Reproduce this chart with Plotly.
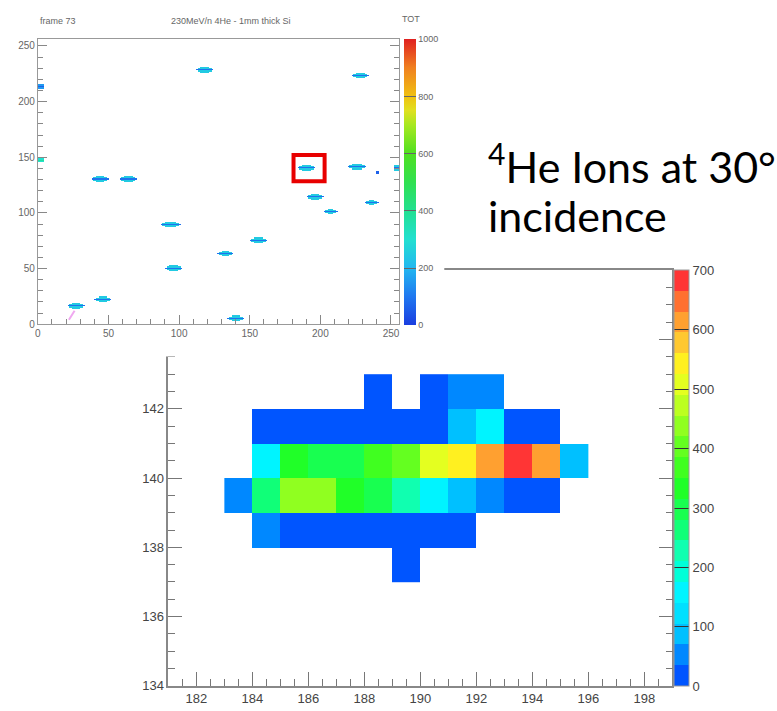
import numpy as np
import plotly.graph_objects as go

W, H = 777, 711

# ---------------- zoomed cluster (bottom panel) ----------------
pix_x = [183, 184, 185, 186, 187, 188, 189, 190, 191, 192, 193, 194, 195]
pix_y = [137, 138, 139, 140, 141, 142]
N = None
tot_y137 = [N, N, N, N, N, N, 20, N, N, N, N, N, N]
tot_y138 = [N, 60, 20, 20, 20, 20, 20, 20, 20, N, N, N, N]
tot_y139 = [60, 265, 435, 435, 330, 300, 225, 155, 90, 60, 20, 20, N]
tot_y140 = [N, 155, 330, 300, 300, 360, 400, 505, 540, 610, 685, 610, 90]
tot_y141 = [N, 20, 20, 20, 20, 20, 20, 20, 90, 155, 20, 20, N]
tot_y142 = [N, N, N, N, N, 20, N, 20, 60, 60, N, N, N]
tot_rows = [tot_y137, tot_y138, tot_y139, tot_y140, tot_y141, tot_y142]

zoom_cbar_ticks = [0, 100, 200, 300, 400, 500, 600, 700]

# ---------------- full frame clusters (top panel) ----------------
cl_x = [118.5, 228, 44.5, 64.5, 94, 96, 132.5, 156, 27, 46, 140, 190.5, 225.5, 196, 207, 236, 254.5, 240, 1.5, 2]
cl_y = [228, 223, 130, 130, 89, 50, 63, 75, 16, 22, 5, 140, 141, 114, 101, 109, 140, 136, 213, 147]
cl_len = [12, 12, 12, 12, 14, 12, 11, 13, 12, 12, 12, 12, 13, 12, 11, 10, 4, 2, 4, 3]
cl_core = [90, 90, 90, 90, 90, 90, 90, 90, 90, 90, 90, 90, 90, 90, 90, 90, 90, 60, 60, 380]
cl_edge = [245, 245, 245, 245, 245, 245, 245, 245, 245, 245, 245, 245, 245, 245, 245, 245, 245, 60, 150, 300]
trail_x = [26, 24, 22]
trail_y = [12, 8, 4]
frame_cbar_ticks = [0, 200, 400, 600, 800, 1000]

# build 256x256 frame image from cluster list
frame = np.full((256, 256), np.nan)
for cx, cy, L, vc, ve in zip(cl_x, cl_y, cl_len, cl_core, cl_edge):
    x0 = int(round(cx - L / 2))
    x1 = int(round(cx + L / 2))
    for dy, trim, val in [(-2, 3, ve), (-1, 1, ve), (0, 0, vc), (1, 1, ve), (2, 3, ve)]:
        a, b = x0 + trim, x1 - trim
        if L <= 4:
            a, b = x0, x1
            if abs(dy) == 2 and L < 4:
                continue
        yy = cy + dy
        if 0 <= yy < 256:
            for xx in range(max(a, 0), min(b, 256)):
                frame[yy, xx] = val

# colour scales
bands = ["#0055ff", "#0088ff", "#00c0ff", "#00e0ff", "#00f4ff", "#00ffd8", "#10ffb0",
         "#10ff78", "#18ff50", "#20ff28", "#40ff20", "#64ff20", "#90ff20", "#bcff20",
         "#e4ff20", "#fff020", "#ffc830", "#ffa030", "#ff7030", "#ff3535"]
cs_zoom = []
for i, c in enumerate(bands):
    cs_zoom.append([i / 20, c])
    cs_zoom.append([(i + 1) / 20, c])

cs_frame = [[0.0, "#1a3ee0"], [0.1, "#1f78f0"], [0.2, "#22b8f0"], [0.3, "#22e0d0"],
            [0.4, "#22e090"], [0.5, "#30e050"], [0.6, "#50e020"], [0.7, "#a8e820"],
            [0.75, "#e0e020"], [0.8, "#f0c010"], [0.9, "#f08020"], [1.0, "#e02020"]]

def px(v):
    return v / W

def py(v):
    return 1 - v / H

fig = go.Figure()

# bottom panel heatmap (subplot xy)
fig.add_trace(go.Heatmap(
    x=[v + 0.5 for v in pix_x], y=[v + 0.5 for v in pix_y], z=tot_rows,
    zmin=0, zmax=700, colorscale=cs_zoom, xaxis="x", yaxis="y", hoverinfo="skip",
    colorbar=dict(x=px(674), xanchor="left", y=py(269), yanchor="top",
                  len=(693.5 - 269) / H, lenmode="fraction", thickness=15,
                  xpad=0, ypad=0, outlinewidth=1, outlinecolor="#999",
                  tickvals=zoom_cbar_ticks, ticks="inside", ticklen=15, tickcolor="#333",
                  tickfont=dict(family="Liberation Sans, Arial", size=13, color="#444"))
))

# cover subplot x2y2 (its white background hides part of the bottom panel)
fig.add_trace(go.Scatter(x=[None], y=[None], xaxis="x2", yaxis="y2", mode="markers",
                         hoverinfo="skip", showlegend=False))

# top panel heatmap (subplot x3y3)
fig.add_trace(go.Heatmap(
    z=frame, x0=0.5, dx=1, y0=0.5, dy=1, zmin=0, zmax=1000, colorscale=cs_frame,
    xaxis="x3", yaxis="y3", hoverinfo="skip",
    colorbar=dict(x=px(403), xanchor="left", y=py(33), yanchor="top",
                  len=(325 - 33) / H, lenmode="fraction", thickness=12,
                  xpad=0, ypad=0, outlinewidth=0,
                  tickvals=frame_cbar_ticks, ticks="inside", ticklen=12, tickcolor="#666",
                  tickfont=dict(family="Liberation Sans, Arial", size=9, color="#666"))
))
fig.add_trace(go.Scatter(x=trail_x, y=trail_y, mode="lines", xaxis="x3", yaxis="y3",
                         line=dict(color="#f0a8f0", width=2), hoverinfo="skip", showlegend=False))

axfont = dict(family="Liberation Sans, Arial", size=13, color="#444")
smallfont = dict(family="Liberation Sans, Arial", size=10, color="#666")

fig.update_layout(
    width=W, height=H, margin=dict(l=0, r=0, t=0, b=0),
    paper_bgcolor="white", plot_bgcolor="white", showlegend=False,
    xaxis=dict(domain=[px(166), px(672)], range=[181, 199], anchor="y",
               dtick=2, tick0=0, ticks="inside", ticklen=14, tickcolor="#777",
               minor=dict(dtick=0.5, ticks="inside", ticklen=7, tickcolor="#777"),
               showline=True, linecolor="#888", linewidth=1.5, mirror=True,
               showgrid=False, zeroline=False, tickfont=axfont),
    yaxis=dict(domain=[py(693.5), py(269)], range=[134, 146], anchor="x",
               dtick=2, tick0=0, ticks="inside", ticklen=14, tickcolor="#777",
               minor=dict(dtick=0.5, ticks="inside", ticklen=7, tickcolor="#777"),
               showline=True, linecolor="#888", linewidth=1.5, mirror="ticks",
               showgrid=False, zeroline=False, tickfont=axfont),
    xaxis2=dict(domain=[0, px(443)], range=[0, 1], anchor="y2", showline=False,
                showticklabels=False, ticks="", showgrid=False, zeroline=False),
    yaxis2=dict(domain=[py(357), 1], range=[0, 1], anchor="x2", showline=False,
                showticklabels=False, ticks="", showgrid=False, zeroline=False),
    xaxis3=dict(domain=[px(35), px(398)], range=[0, 256], anchor="y3",
                dtick=50, tick0=0, ticks="inside", ticklen=9, tickcolor="#888",
                minor=dict(dtick=10, ticks="inside", ticklen=5, tickcolor="#888"),
                showline=True, linecolor="#999", linewidth=1, mirror=True,
                showgrid=False, zeroline=False, tickfont=smallfont),
    yaxis3=dict(domain=[py(324), py(33)], range=[0, 256], anchor="x3",
                dtick=50, tick0=0, ticks="inside", ticklen=9, tickcolor="#888",
                minor=dict(dtick=10, ticks="inside", ticklen=5, tickcolor="#888"),
                showline=True, linecolor="#999", linewidth=1, mirror="ticks",
                showgrid=False, zeroline=False, tickfont=smallfont),
)

fig.add_shape(type="rect", xref="x3", yref="y3", x0=181, x1=203, y0=128.5, y1=152,
              line=dict(color="#e80000", width=4), layer="above")

tfont = dict(family="Liberation Sans, Arial", size=9, color="#666")
fig.add_annotation(x=px(35), y=py(14), xref="paper", yref="paper", xanchor="left",
                   yanchor="middle", text="frame 73", showarrow=False, font=tfont)
fig.add_annotation(x=px(229), y=py(14), xref="paper", yref="paper", xanchor="center",
                   yanchor="middle", text="230MeV/n 4He - 1mm thick Si", showarrow=False, font=tfont)
fig.add_annotation(x=px(410), y=py(12), xref="paper", yref="paper", xanchor="center",
                   yanchor="middle", text="TOT", showarrow=False, font=tfont)

bigfont = dict(family="Lato", size=43, color="#000")
fig.add_annotation(x=px(485), y=py(160), xref="paper", yref="paper", xanchor="left",
                   yanchor="middle", text="<sup>4</sup>He Ions at 30°", showarrow=False, font=bigfont)
fig.add_annotation(x=px(485), y=py(213), xref="paper", yref="paper", xanchor="left",
                   yanchor="middle", text="incidence", showarrow=False, font=bigfont)

fig.write_html("out.html")
